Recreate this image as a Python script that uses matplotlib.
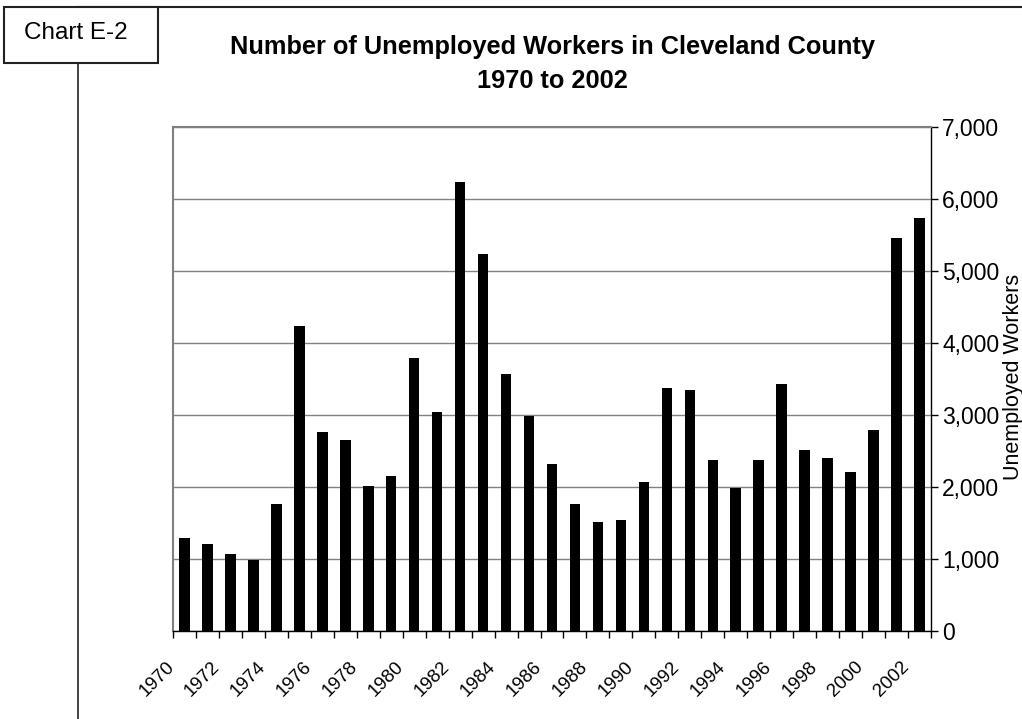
import matplotlib
matplotlib.use("Agg")
import matplotlib.pyplot as plt
import matplotlib.transforms as mtransforms
from matplotlib.patches import Rectangle
from matplotlib.lines import Line2D
import numpy as np

plt.rcParams['font.family'] = ['Liberation Sans', 'DejaVu Sans']

years = list(range(1970, 2003))
unemployed = [1287, 1208, 1065, 990, 1764, 4236, 2760, 2653, 2014, 2153,
              3787, 3037, 6232, 5232, 3565, 2986, 2315, 1764, 1509, 1542,
              2065, 3370, 3343, 2370, 1986, 2370, 3426, 2509, 2398, 2204,
              2787, 5454, 5732]
y_ticks = [0, 1000, 2000, 3000, 4000, 5000, 6000, 7000]
title = "Number of Unemployed Workers in Cleveland County\n1970 to 2002"
y_label = "Unemployed Workers"
box_label = "Chart E-2"

W, H = 1022, 719
fig = plt.figure(figsize=(W / 100, H / 100), dpi=100)

# frame lines (top and left)
fig.add_artist(Line2D([78 / W, 1.0], [1 - 7 / H, 1 - 7 / H], color='#222222', lw=1.5, transform=fig.transFigure))
fig.add_artist(Line2D([78 / W, 78 / W], [0.0, 1 - 7 / H], color='#222222', lw=1.2, transform=fig.transFigure))

# chart label box
fig.add_artist(Rectangle((4 / W, 1 - 63 / H), 154 / W, 56 / H, transform=fig.transFigure,
                         facecolor='white', edgecolor='#222222', lw=1.5, zorder=5))
fig.text(76 / W, 1 - 33 / H, box_label, ha='center', va='center', fontsize=17.5, zorder=6)

left, right, top, bottom = 173, 931, 127, 631
ax = fig.add_axes([left / W, 1 - bottom / H, (right - left) / W, (bottom - top) / H])

x = np.arange(len(years))
ax.bar(x, unemployed, width=0.46, color='black', zorder=3)

ax.set_xlim(-0.5, len(years) - 0.5)
ax.set_ylim(0, 7000)
ax.set_axisbelow(True)
ax.yaxis.grid(True, color='#808080', lw=1)

ax.yaxis.tick_right()
ax.set_yticks(y_ticks)
ax.set_yticklabels([f"{v:,}" for v in y_ticks], fontsize=16.5)
ax.tick_params(axis='y', direction='out', length=5, width=1, pad=3, color='black')

# x: ticks at category boundaries, labels at even-year centers
ax.set_xticks(np.arange(-0.5, len(years), 1.0))
ax.set_xticklabels([])
ax.tick_params(axis='x', which='major', direction='out', length=5, width=1, color='black')
lab_idx = [i for i, yv in enumerate(years) if yv % 2 == 0]
ax.set_xticks(lab_idx, minor=True)
ax.set_xticklabels([str(years[i]) for i in lab_idx], minor=True, fontsize=13.5,
                   rotation=45, ha='right', va='center', rotation_mode='anchor')
ax.tick_params(axis='x', which='minor', length=0, pad=24)
offset = mtransforms.ScaledTranslation(-13 / 100, 0, fig.dpi_scale_trans)
for lab in ax.get_xticklabels(minor=True):
    lab.set_transform(lab.get_transform() + offset)

for s in ['left', 'top']:
    ax.spines[s].set_color('#808080')
    ax.spines[s].set_linewidth(1.5)
for s in ['right', 'bottom']:
    ax.spines[s].set_color('black')
    ax.spines[s].set_linewidth(1)

# y axis title on the far right
fig.text(1019 / W, 1 - 376.5 / H, y_label, rotation=90, rotation_mode='anchor',
         ha='center', va='baseline', fontsize=15.5)

fig.text((left + right) / 2 / W, 1 - 64 / H, title, ha='center', va='center',
         fontsize=18.3, fontweight='bold', linespacing=1.5)

fig.savefig("out.png", dpi=100)
